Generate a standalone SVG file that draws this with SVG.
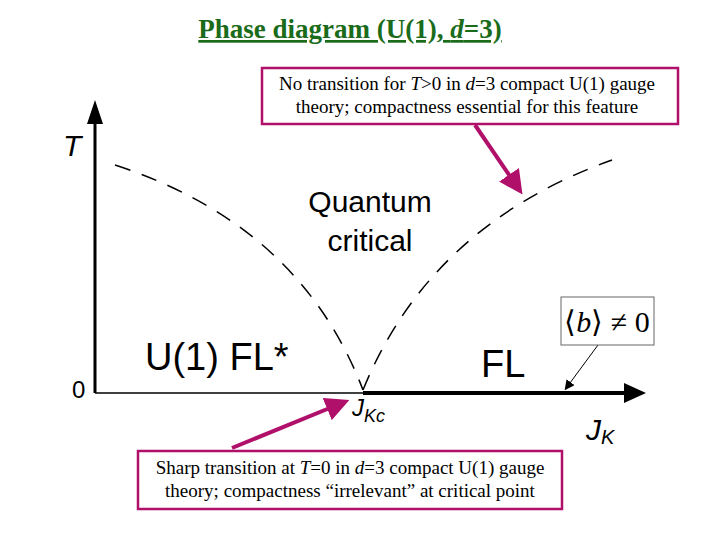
<svg xmlns="http://www.w3.org/2000/svg" width="720" height="540" viewBox="0 0 720 540">
<style>
.ser{font-family:"Liberation Serif",serif;font-size:19px;fill:#000}
.sans{font-family:"Liberation Sans",Arial,sans-serif;fill:#000}
.box{fill:#fff;stroke:#b0106a;stroke-width:2.5}
.dash{fill:none;stroke:#000;stroke-width:1.5;stroke-dasharray:16 12}
.mag{stroke:#b0106a;stroke-width:4;fill:none}
</style>
<defs>
<marker id="ma" markerWidth="6" markerHeight="6" refX="4" refY="3" orient="auto"><path d="M0,0L6,3L0,6z" fill="#b0106a"/></marker>
<marker id="ka" markerWidth="10" markerHeight="10" refX="6" refY="5" orient="auto" markerUnits="userSpaceOnUse"><path d="M0,0L10,5L0,10z" fill="#000"/></marker>
</defs>
<rect width="720" height="540" fill="#fff"/>
<text id="title" x="350" y="38" text-anchor="middle" font-family="Liberation Serif,serif" font-size="27" font-weight="bold" fill="#1a6b1a" text-decoration="underline">Phase diagram (U(1), <tspan font-style="italic">d</tspan>=3)</text>
<g id="connectors">
<line x1="95" y1="393" x2="95" y2="115" stroke="#000" stroke-width="3"/>
<path d="M87,124L95,100L103,124z" fill="#000"/>
<line x1="95" y1="393" x2="363" y2="393" stroke="#000" stroke-width="1.5"/>
<line x1="363" y1="393" x2="628" y2="393" stroke="#000" stroke-width="4"/>
<path d="M624,383L646,393L624,403z" fill="#000"/>
<path class="dash" d="M115,165 Q300,225 363,390"/>
<path class="dash" d="M363,390 Q430,225 612,160"/>
<line class="mag" x1="475" y1="125" x2="518" y2="188" marker-end="url(#ma)"/>
<line class="mag" x1="232" y1="448" x2="342" y2="403" marker-end="url(#ma)"/>
<line x1="598" y1="345" x2="567" y2="387" stroke="#000" stroke-width="1" marker-end="url(#ka)"/>
</g>
<g id="box-top"><rect class="box" x="262" y="68" width="416" height="56"/>
<text class="ser" x="467" y="90" text-anchor="middle">No transition for <tspan font-style="italic">T</tspan>&gt;0 in <tspan font-style="italic">d</tspan>=3 compact U(1) gauge</text>
<text class="ser" x="467" y="113" text-anchor="middle">theory; compactness essential for this feature</text></g>
<g id="box-bottom"><rect class="box" x="138" y="451" width="424" height="58"/>
<text class="ser" x="350" y="474" text-anchor="middle">Sharp transition at <tspan font-style="italic">T</tspan>=0 in <tspan font-style="italic">d</tspan>=3 compact U(1) gauge</text>
<text class="ser" x="350" y="497" text-anchor="middle">theory; compactness “irrelevant” at critical point</text></g>
<g id="box-b"><rect x="561" y="297" width="93" height="48" fill="#fff" stroke="#666" stroke-width="1"/>
<text x="607" y="332" text-anchor="middle" font-family="Liberation Serif,serif" font-size="30">⟨<tspan font-style="italic">b</tspan>⟩ ≠ 0</text></g>
<g id="labels">
<text class="sans" x="63" y="156" font-size="30" font-style="italic">T</text>
<text class="sans" x="72" y="398" font-size="24">0</text>
<text class="sans" x="370" y="212" font-size="30" text-anchor="middle">Quantum</text>
<text class="sans" x="370" y="251" font-size="30" text-anchor="middle">critical</text>
<text class="sans" x="145" y="370" font-size="38">U(1) FL*</text>
<text class="sans" x="481" y="377" font-size="38">FL</text>
<text class="sans" x="352" y="416" font-size="24" font-style="italic">J<tspan font-size="18" dy="6">Kc</tspan></text>
<text class="sans" x="586" y="440" font-size="30" font-style="italic">J<tspan font-size="20" dy="4">K</tspan></text>
</g>
</svg>
